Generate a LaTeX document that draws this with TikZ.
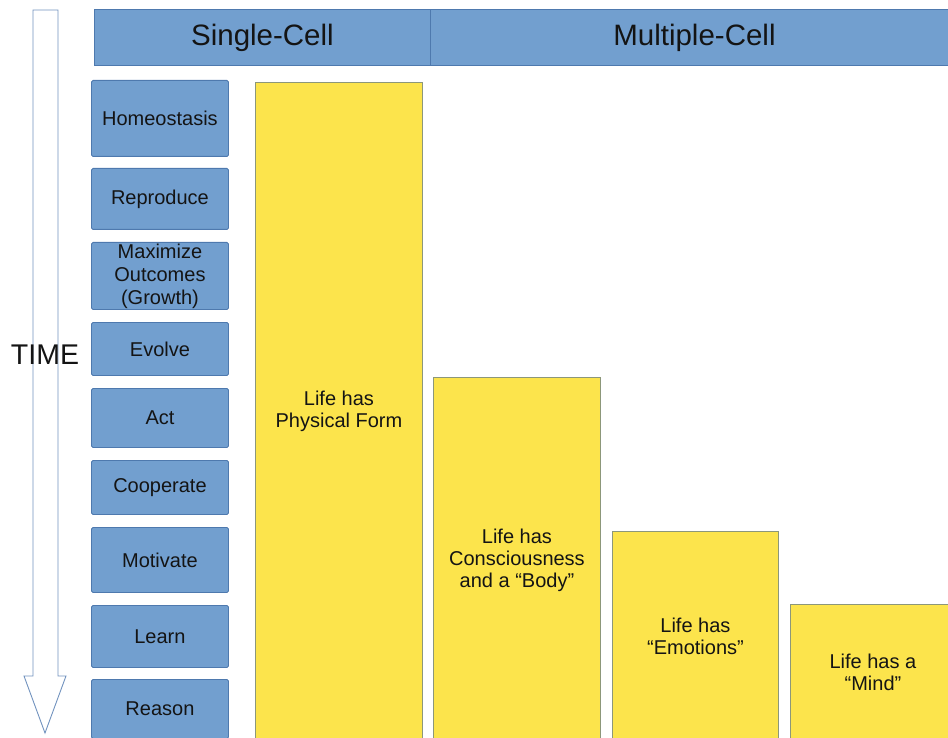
\documentclass[tikz,border=0pt]{standalone}
\usepackage{fontspec}
\setmainfont{Liberation Sans}
\definecolor{bfill}{HTML}{729FCF}
\definecolor{bline}{HTML}{4E79AE}
\definecolor{yfill}{HTML}{FCE44C}
\definecolor{yline}{HTML}{8C977A}
\definecolor{aline}{HTML}{7293BF}
\definecolor{tcol}{HTML}{141414}
\begin{document}
\begin{tikzpicture}[x=1pt,y=-1pt,
  bluebox/.style={draw=bline,fill=bfill,line width=0.9pt,rounded corners=1.5pt,anchor=north west,inner sep=0pt,align=center,text=tcol,font=\fontsize{20}{23}\selectfont},
  headbox/.style={bluebox,font=\fontsize{29.5}{32}\selectfont,rounded corners=0pt},
  yelbox/.style={draw=yline,fill=yfill,line width=0.9pt,anchor=north west,inner sep=0pt,align=center,text=tcol,font=\fontsize{20}{22}\selectfont}]
\useasboundingbox (0,0) rectangle (948,738);
\begin{scope}
\clip (0,0) rectangle (948,738);
% time arrow
\draw[aline,fill=white,line width=0.9pt,line join=miter] (33,10) -- (58,10) -- (58,676) -- (66,676) -- (45,733) -- (24,676) -- (33,676) -- cycle;
\node[text=tcol,font=\fontsize{28.5}{32}\selectfont] (time) at (45,355) {TIME};
% headers
\node[headbox,minimum width=336pt,minimum height=56pt] (single) at (94,9) {Single-Cell};
\node[headbox,minimum width=528pt,minimum height=56pt] (multi) at (430,9) {Multiple-Cell};
% left stages
\node[bluebox,minimum width=137pt,minimum height=76pt] (homeo) at (91,80) {Homeostasis};
\node[bluebox,minimum width=137pt,minimum height=61pt] (repro) at (91,168) {Reproduce};
\node[bluebox,minimum width=137pt,minimum height=67pt] (maxim) at (91,242) {Maximize\\Outcomes\\(Growth)};
\node[bluebox,minimum width=137pt,minimum height=53pt] (evolve) at (91,322) {Evolve};
\node[bluebox,minimum width=137pt,minimum height=59pt] (act) at (91,388) {Act};
\node[bluebox,minimum width=137pt,minimum height=54pt] (coop) at (91,460) {Cooperate};
\node[bluebox,minimum width=137pt,minimum height=65pt] (motiv) at (91,527) {Motivate};
\node[bluebox,minimum width=137pt,minimum height=62pt] (learn) at (91,605) {Learn};
\node[bluebox,minimum width=137pt,minimum height=59pt] (reason) at (91,679) {Reason};
% yellow bars
\node[yelbox,minimum width=167pt,minimum height=657pt] (phys) at (255,82) {Life has\\Physical Form};
\node[yelbox,minimum width=167pt,minimum height=365pt] (consc) at (433,377) {Life has\\Consciousness\\and a “Body”};
\node[yelbox,minimum width=166pt,minimum height=210pt] (emot) at (612,531) {Life has\\“Emotions”};
\node[yelbox,minimum width=165pt,minimum height=135pt] (mind) at (790,604) {Life has a\\“Mind”};
\end{scope}
\end{tikzpicture}
\end{document}
